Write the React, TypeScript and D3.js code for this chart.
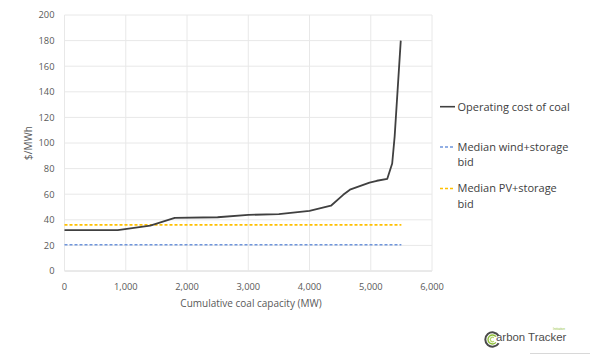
import React from "react";
import * as d3 from "d3";

// ---- data ----
const capacityMW = [0, 870, 1400, 1800, 2500, 3000, 3500, 4000, 4350, 4550, 4660, 4980, 5100, 5270, 5350, 5390, 5490];
const coalCost = [32, 32, 35.5, 41.5, 42, 43.8, 44.5, 47, 51, 59.5, 63.5, 69, 70.5, 72, 84, 105, 180];
const windStorageBid = 20.5;
const pvStorageBid = 36;
const bidRange = [0, 5500];
const xTicks = [0, 1000, 2000, 3000, 4000, 5000, 6000];
const yTicks = [0, 20, 40, 60, 80, 100, 120, 140, 160, 180, 200];
const legendItems = [
  { label: ["Operating cost of coal"], color: "#404040", dash: "" },
  { label: ["Median wind+storage", "bid"], color: "#6f95dc", dash: "3,2" },
  { label: ["Median PV+storage", "bid"], color: "#ffc000", dash: "3,2" },
];

const W = 590;
const H = 356;
const plot = { left: 64.5, right: 432, top: 15, bottom: 271 };

export default function App() {
  const x = d3.scaleLinear().domain([0, 6000]).range([plot.left, plot.right]);
  const y = d3.scaleLinear().domain([0, 200]).range([plot.bottom, plot.top]);
  const fmt = d3.format(",");
  const pts: [number, number][] = capacityMW.map((c, i) => [c, coalCost[i]]);
  const line = d3
    .line<[number, number]>()
    .x((d) => x(d[0]))
    .y((d) => y(d[1]));
  const font = "'Open Sans', sans-serif";
  const legendY = [106.7, 147, 188.5];
  const arc = (ri: number, ro: number, gap: number) =>
    d3.arc()({
      innerRadius: ri,
      outerRadius: ro,
      startAngle: Math.PI / 2 + gap,
      endAngle: Math.PI / 2 + 2 * Math.PI - gap,
    } as any) || "";

  return (
    <svg
      width={W}
      height={H}
      style={{ position: "absolute", left: 0, top: 0, background: "#fff" }}
    >
      <rect x={0} y={0} width={W} height={H} fill="#fff" />
      {/* gridlines */}
      {yTicks.map((t) => (
        <line
          key={"gy" + t}
          x1={plot.left}
          x2={plot.right}
          y1={y(t)}
          y2={y(t)}
          stroke={t === 0 ? "#d4d4d4" : "#e8e8e8"}
          strokeWidth={1}
        />
      ))}
      {xTicks.map((t) => (
        <line
          key={"gx" + t}
          x1={x(t)}
          x2={x(t)}
          y1={plot.top}
          y2={plot.bottom}
          stroke="#e8e8e8"
          strokeWidth={1}
        />
      ))}
      {/* tick labels */}
      {yTicks.map((t) => (
        <text
          key={"ty" + t}
          x={54.5}
          y={y(t) + 3.3}
          textAnchor="end"
          fontFamily={font}
          fontSize={9.3}
          fill="#595959"
        >
          {t}
        </text>
      ))}
      {xTicks.map((t) => (
        <text
          key={"tx" + t}
          x={x(t)}
          y={289.5}
          textAnchor="middle"
          fontFamily={font}
          fontSize={9.3}
          fill="#595959"
        >
          {fmt(t)}
        </text>
      ))}
      {/* axis titles */}
      <text
        x={251}
        y={306.5}
        textAnchor="middle"
        fontFamily={font}
        fontSize={10}
        fill="#595959"
      >
        Cumulative coal capacity (MW)
      </text>
      <text
        transform={`translate(31.5,${143}) rotate(-90)`}
        textAnchor="middle"
        fontFamily={font}
        fontSize={10}
        fill="#595959"
      >
        $/MWh
      </text>
      {/* bid lines */}
      <line
        x1={x(bidRange[0])}
        x2={x(bidRange[1])}
        y1={y(windStorageBid)}
        y2={y(windStorageBid)}
        stroke="#6f95dc"
        strokeWidth={1.6}
        strokeDasharray="3,2"
      />
      <line
        x1={x(bidRange[0])}
        x2={x(bidRange[1])}
        y1={y(pvStorageBid)}
        y2={y(pvStorageBid)}
        stroke="#ffc000"
        strokeWidth={1.6}
        strokeDasharray="3,2"
      />
      {/* coal line */}
      <path d={line(pts) || ""} fill="none" stroke="#404040" strokeWidth={1.8} strokeLinejoin="round" />
      {/* legend */}
      {legendItems.map((it, i) => (
        <g key={"lg" + i}>
          <line
            x1={440}
            x2={455}
            y1={legendY[i]}
            y2={legendY[i]}
            stroke={it.color}
            strokeWidth={1.6}
            strokeDasharray={it.dash}
          />
          {it.label.map((l, j) => (
            <text
              key={j}
              x={457.5}
              y={legendY[i] + 3.8 + j * 15.5}
              fontFamily={font}
              fontSize={11}
              fill="#404040"
            >
              {l}
            </text>
          ))}
        </g>
      ))}
      {/* logo */}
      <g transform="translate(492.5,339.5)">
        <path d={arc(6.2, 8.2, 0.55)} fill="#4a4a4a" />
        <path d={arc(3.8, 5.2, 0.7)} fill="#8fbf3a" />
        <path d={arc(1.6, 2.8, 0.9)} fill="#b5d36a" />
      </g>
      <text x={496} y={341} fontFamily="'Liberation Sans', Arial, sans-serif" fontSize={11.4} fill="#4d4d4d">
        arbon Tracker
      </text>
      <text x={553} y={329.8} fontFamily="'Liberation Sans', Arial, sans-serif" fontSize={3.3} fill="#8fbf3a">
        Initiative
      </text>
      <line x1={530} x2={590} y1={353.5} y2={353.5} stroke="#d8d8d8" strokeWidth={1} />
    </svg>
  );
}
